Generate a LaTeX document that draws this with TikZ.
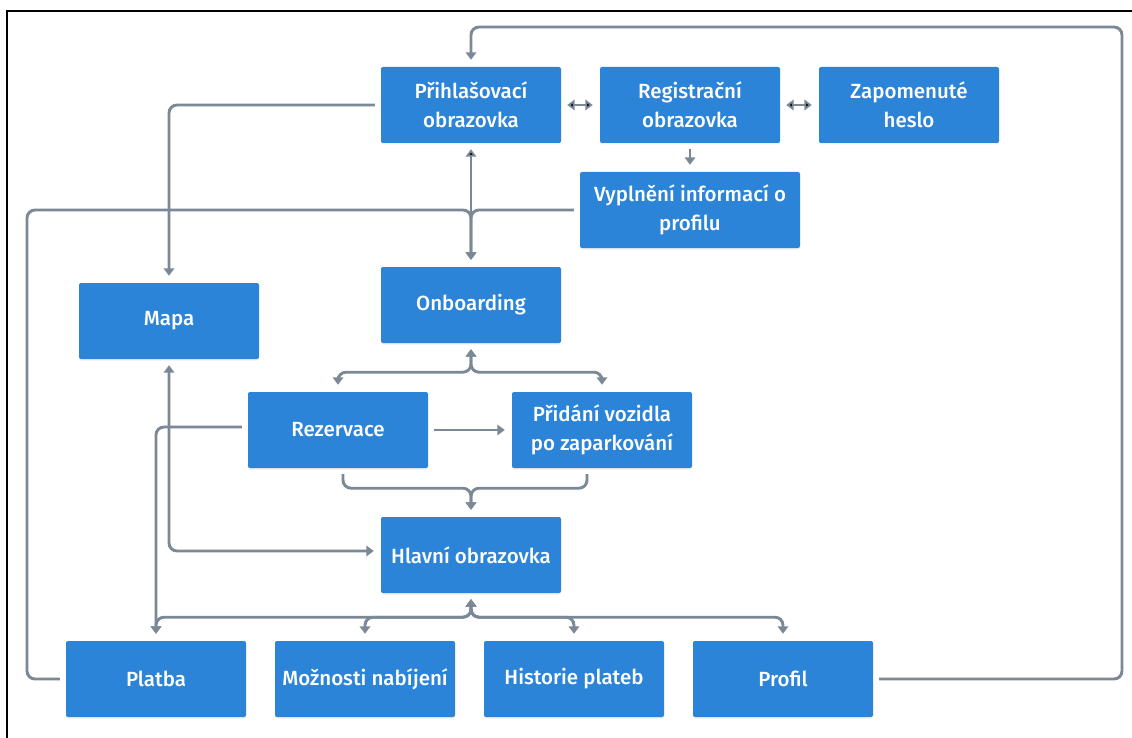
\documentclass[tikz,border=0pt]{standalone}
\usepackage{fontspec}
\setmainfont{Fira Sans}[UprightFont={* Medium}]
\usetikzlibrary{arrows.meta,positioning,shadows}
\definecolor{screenblue}{HTML}{2B84D7}
\definecolor{linkgray}{HTML}{7B8895}

\begin{document}
\begin{tikzpicture}[x=1pt,y=-1pt,>={Triangle[width=10.5pt,length=7.5pt]},node distance=219pt,
  screen node/.style={rectangle,rounded corners=2pt,fill=screenblue,text=white,minimum width=180pt,minimum height=76pt,align=center,font=\fontsize{20.5}{29}\selectfont,drop shadow={opacity=0.12,shadow xshift=0pt,shadow yshift=-1.5pt}},
  link/.style={draw=linkgray,line width=2.9pt,rounded corners=8pt,shorten >=7pt,shorten <=6pt}]

  \useasboundingbox (0,0) rectangle (1132,738);
  \draw[black,line width=2.5pt] (7,740) -- (7,11) -- (1134,11);

  \node[screen node] (login) at (471,105) {Přihlašovací\\obrazovka};
  \node[screen node] (register) [right of=login] {Registrační\\obrazovka};
  \node[screen node] (forgot) [right of=register] {Zapomenuté\\heslo};
  \node[screen node,minimum width=220pt] (profilefill) [below of=register,node distance=105pt] {Vyplnění informací o\\profilu};
  \node[screen node] (onboard) [below of=login,node distance=200pt] {Onboarding};
  \node[screen node] (map) at (169,321) {Mapa};
  \node[screen node] (booking) at (338,430) {Rezervace};
  \node[screen node] (addcar) [right of=booking,node distance=264pt] {Přidání vozidla\\po zaparkování};
  \node[screen node] (home) [below of=onboard,node distance=250pt] {Hlavní obrazovka};
  \node[screen node] (pay) at (156,679) {Platba};
  \node[screen node] (charge) [right of=pay,node distance=209pt] {Možnosti nabíjení};
  \node[screen node] (history) [right of=charge,node distance=209pt] {Historie plateb};
  \node[screen node] (profile) [right of=history,node distance=209pt] {Profil};

  \coordinate (outerL) at (27,210);
  \coordinate (outerR) at (1122,27);

  \path[link,<->] (login) edge (register)
                  (register) edge (forgot)
                  (login) edge (onboard);
  \draw[link,->] (register) -- (profilefill);
  \draw[link,->] (profilefill.west) -| (onboard.north);
  \draw[link,->] (pay.west) -| (outerL) -| (onboard.north);
  \draw[link,->] (login.west) -| (map.north);
  \draw[link,<->] (map.south) |- ([yshift=4pt]home.west);
  \draw[link,<->] (onboard.south) -- ++(0,29) -| (booking.north);
  \draw[link,<->] (onboard.south) -- ++(0,29) -| (addcar.north);
  \draw[link,->] (booking) -- (addcar);
  \draw[link,->] ([xshift=5pt]booking.south) -- ++(0,20) -| (home.north);
  \draw[link,->] ([xshift=-15pt]addcar.south) -- ++(0,20) -| (home.north);
  \foreach \s in {pay,charge,history,profile}
    \draw[link,<->] (home.south) -- ++(0,24) -| (\s.north);
  \draw[link,->] ([yshift=3pt]booking.west) -| (pay.north);
  \draw[link,->] (profile.east) -| (outerR) -| (login.north);
\end{tikzpicture}
\end{document}
